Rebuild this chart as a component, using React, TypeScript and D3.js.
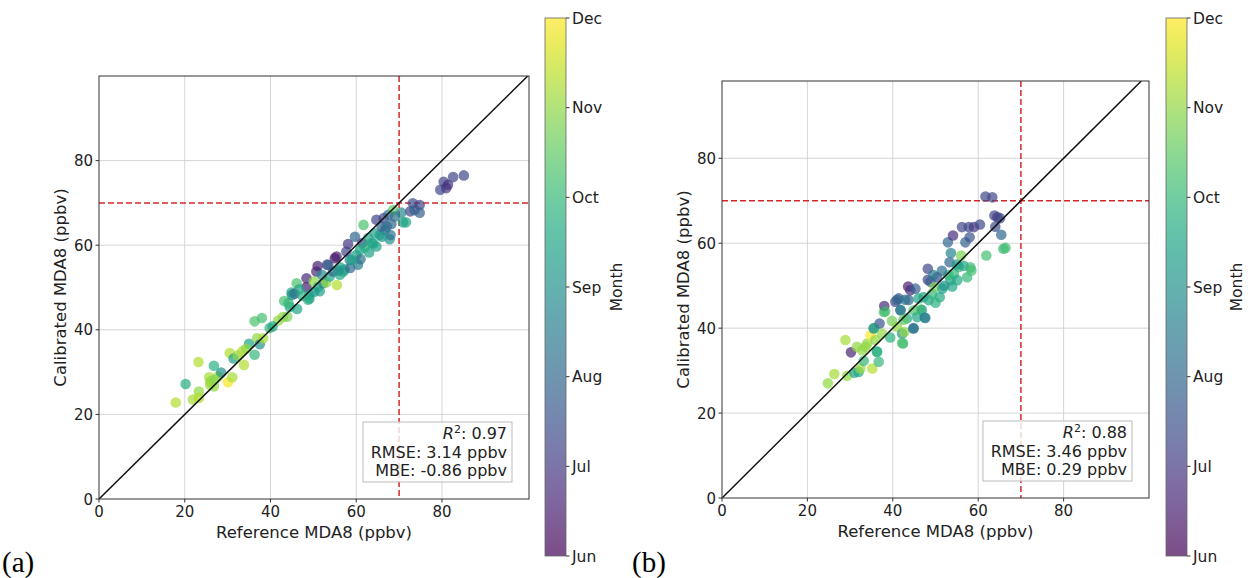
import React from "react";
import * as d3 from "d3";

// ---------- Data: panel (a) ----------
const refA = [17.9,20.2,21.9,23.2,23.3,23.3,25.7,26.0,26.8,26.8,27.8,28.5,30.1,30.5,31.1,31.4,32.4,33.4,33.8,35.0,36.3,36.3,38.0,36.9,37.5,38.3,39.8,41.8,42.9,43.2,43.9,44.5,44.9,46.1,46.2,45.6,48.4,48.4,48.8,49.1,50.1,50.7,51.0,51.1,51.5,52.3,53.0,53.2,53.8,54.6,55.0,55.4,55.5,56.2,57.0,57.3,57.7,58.1,58.5,58.6,59.7,60.0,60.4,61.0,61.4,62.8,63.0,63.6,64.3,64.7,64.7,65.5,65.9,66.4,66.7,67.1,67.5,67.8,68.0,68.2,68.6,69.0,70.5,70.9,71.6,72.6,73.2,73.6,74.8,74.8,79.6,80.4,81.0,81.4,82.6,85.1,44.2,45.0,46.7,49.1,52.0,53.5,56.2,59.0,60.9,61.7,64.0,25.9,27.0,34.3,40.5,47.5,50.2,55.8,62.0,66.0];
const calA = [22.8,27.2,23.5,32.4,25.4,23.9,28.8,27.8,31.5,26.6,29.0,29.9,27.6,34.5,28.8,33.2,33.9,34.9,31.7,36.7,34.1,42.0,42.8,38.0,36.6,38.0,40.4,42.2,43.0,46.8,43.1,45.4,48.8,51.0,44.9,48.5,50.1,52.2,47.1,48.3,51.4,53.8,55.1,50.1,49.1,51.0,51.2,55.4,52.6,53.8,56.9,57.3,50.6,54.8,53.8,54.3,58.5,60.3,56.5,54.6,62.0,57.7,55.4,56.7,60.5,61.7,58.3,60.5,62.8,59.7,66.0,62.4,64.4,66.4,63.6,64.4,67.2,61.4,62.4,65.0,68.3,66.8,67.7,65.4,65.4,68.0,69.9,68.3,69.5,67.7,73.1,75.0,73.5,74.3,76.1,76.5,46.3,48.2,49.6,47.4,53.0,55.3,53.0,56.5,58.9,64.8,60.4,27.0,28.2,35.5,40.8,48.0,49.0,54.0,59.5,62.0];
const monA = [11.3,9.7,11.2,11.3,11.0,11.3,11.2,11.0,9.8,11.0,11.1,9.0,11.9,11.3,11.2,9.3,11.0,11.3,11.3,9.5,10.0,10.3,10.2,11.0,9.0,11.2,10.0,11.0,11.0,10.2,10.8,9.5,9.4,10.3,9.5,7.0,6.5,6.7,9.7,9.5,11.0,6.7,6.5,9.6,9.4,8.7,11.0,7.3,9.5,8.0,6.4,6.5,11.3,9.4,9.3,9.5,7.2,7.0,8.6,8.0,8.0,9.3,8.5,8.2,7.0,9.6,9.4,9.6,9.5,9.4,7.2,9.3,7.8,7.2,8.0,8.2,8.0,9.0,8.3,8.0,10.5,8.1,8.8,9.5,9.5,7.3,7.3,7.8,7.2,7.8,7.3,7.2,7.0,6.8,7.2,7.3,10.0,9.0,9.5,9.6,8.8,7.8,9.6,9.4,9.5,10.3,9.5,11.1,10.9,11.0,9.6,9.8,9.2,9.0,9.7,9.2];

// ---------- Data: panel (b) ----------
const refB = [24.8,26.3,28.9,29.3,30.2,31.0,31.6,32.0,32.4,32.8,33.2,33.6,34.0,34.8,35.2,35.6,35.9,36.3,36.7,36.9,37.5,37.9,38.0,39.4,39.8,40.6,41.0,41.4,41.8,42.2,42.4,42.7,43.3,43.6,43.7,44.1,44.8,44.9,45.3,45.7,46.5,47.2,47.5,48.2,48.2,48.4,48.8,49.2,49.8,50.4,51.0,51.6,52.9,53.3,53.5,53.6,53.9,54.1,54.3,55.1,55.5,56.0,56.2,56.6,57.0,57.4,57.8,58.0,58.2,58.4,59.0,60.4,61.7,61.9,63.3,63.8,64.0,64.5,65.1,65.4,65.9,66.4,38.2,41.0,42.9,41.8,42.5,44.9,35.5,36.3,42.2,46.8,47.6,50.0,52.0,55.0,53.0,46.0,49.5,51.5];
const calB = [27.0,29.2,37.2,28.8,34.3,29.5,35.6,29.7,30.5,34.8,32.3,35.6,36.4,38.3,30.5,39.9,37.2,34.4,32.1,41.1,38.7,43.8,45.2,37.8,41.7,46.2,40.3,47.0,44.2,38.7,36.4,39.1,42.3,49.8,46.6,48.9,39.9,44.2,49.3,42.6,44.4,47.3,42.5,54.0,51.4,46.6,50.9,48.1,49.7,52.0,47.3,49.3,60.2,55.5,51.3,57.7,49.8,61.8,52.8,51.3,54.4,57.1,63.8,54.7,60.2,52.0,63.8,61.4,54.3,53.6,63.8,64.4,71.0,57.1,70.8,66.5,63.9,66.1,65.9,62.0,58.7,58.9,43.9,46.7,46.7,44.3,42.0,40.0,40.0,34.5,36.5,44.3,42.4,46.0,50.0,55.0,52.5,47.0,52.5,53.5];
const monB = [11.0,11.2,11.2,11.0,6.6,9.5,11.0,9.6,11.1,11.0,10.0,11.0,11.0,12.0,11.3,10.3,11.0,9.8,10.0,7.5,11.0,10.3,6.7,9.8,10.7,7.2,11.0,7.5,8.0,9.0,10.0,11.0,9.6,6.5,8.0,6.8,8.2,10.3,7.8,9.5,10.8,9.5,8.8,7.3,7.3,9.5,7.7,10.0,10.8,7.5,9.6,9.5,8.0,8.0,9.5,8.7,9.5,6.8,10.0,9.6,10.0,10.8,7.3,9.5,7.8,10.0,7.3,7.5,10.0,10.2,7.0,7.3,7.3,10.2,7.3,7.3,7.4,7.0,7.3,8.0,10.0,10.2,10.2,8.0,8.2,8.6,10.5,8.3,9.0,9.8,10.3,9.4,8.5,9.8,9.0,9.3,10.0,9.5,8.4,8.2];

const monthLabels = ["Jun", "Jul", "Aug", "Sep", "Oct", "Nov", "Dec"];
const monthValues = [6, 7, 8, 9, 10, 11, 12];
const axisTicks = [0, 20, 40, 60, 80];
const threshold = 70;

const statsA = ["0.97", "RMSE: 3.14 ppbv", "MBE: -0.86 ppbv"];
const statsB = ["0.88", "RMSE: 3.46 ppbv", "MBE: 0.29 ppbv"];

const FONT = "DejaVu Sans";
const color = (m: number) => d3.interpolateViridis((m - 6) / 6);

type PanelProps = {
  id: string;
  left: number; top: number; right: number; bottom: number;
  xMax: number; yMax: number;
  xs: number[]; ys: number[]; ms: number[];
  stats: string[];
  box: [number, number, number, number];
  cbX: number; cbW: number; cbTop: number; cbBottom: number;
  monthX: number;
  letter: string; letterX: number;
};

function Panel(p: PanelProps) {
  const x = d3.scaleLinear().domain([0, p.xMax]).range([p.left, p.right]);
  const y = d3.scaleLinear().domain([0, p.yMax]).range([p.bottom, p.top]);
  const cb = d3.scaleLinear().domain([6, 12]).range([p.cbBottom, p.cbTop]);
  const clipId = "clip" + p.id;
  const gradId = "grad" + p.id;
  const stops = d3.range(0, 1.0001, 0.05);
  const diagEnd = Math.min(p.xMax, p.yMax);
  const [bx, by, bw, bh] = p.box;
  return (
    <g>
      <defs>
        <clipPath id={clipId}>
          <rect x={p.left} y={p.top} width={p.right - p.left} height={p.bottom - p.top} />
        </clipPath>
        <linearGradient id={gradId} x1="0" y1="1" x2="0" y2="0">
          {stops.map((t, i) => (
            <stop key={i} offset={t} stopColor={d3.interpolateViridis(t)} stopOpacity={0.7} />
          ))}
        </linearGradient>
      </defs>
      {axisTicks.filter(t => t > 0).map(t => (
        <g key={"g" + t}>
          <line x1={x(t)} x2={x(t)} y1={p.top} y2={p.bottom} stroke="#d0d0d0" strokeWidth={0.9} />
          <line x1={p.left} x2={p.right} y1={y(t)} y2={y(t)} stroke="#d0d0d0" strokeWidth={0.9} />
        </g>
      ))}
      <g clipPath={`url(#${clipId})`}>
        <line x1={x(threshold)} x2={x(threshold)} y1={p.top} y2={p.bottom} stroke="#d62728" strokeWidth={1.5} strokeDasharray="6,3" />
        <line x1={p.left} x2={p.right} y1={y(threshold)} y2={y(threshold)} stroke="#d62728" strokeWidth={1.5} strokeDasharray="6,3" />
        {p.xs.map((v, i) => (
          <circle key={i} cx={x(v)} cy={y(p.ys[i])} r={5.3} fill={color(p.ms[i])} fillOpacity={0.7} />
        ))}
        <line x1={x(0)} y1={y(0)} x2={x(diagEnd)} y2={y(diagEnd)} stroke="#111" strokeWidth={1.5} />
      </g>
      <rect x={p.left} y={p.top} width={p.right - p.left} height={p.bottom - p.top} fill="none" stroke="#333" strokeWidth={1} />
      {axisTicks.map(t => (
        <g key={"t" + t} fontFamily={FONT} fontSize={15} fill="#222">
          <line x1={x(t)} x2={x(t)} y1={p.bottom} y2={p.bottom + 3.5} stroke="#333" />
          <text x={x(t)} y={p.bottom + 18} textAnchor="middle">{t}</text>
          <line x1={p.left - 3.5} x2={p.left} y1={y(t)} y2={y(t)} stroke="#333" />
          <text x={p.left - 6} y={y(t) + 5.5} textAnchor="end">{t}</text>
        </g>
      ))}
      <text x={(p.left + p.right) / 2} y={p.bottom + 39} textAnchor="middle" fontFamily={FONT} fontSize={16.5} fill="#222">Reference MDA8 (ppbv)</text>
      <text transform={`translate(${p.left - 33},${(p.top + p.bottom) / 2}) rotate(-90)`} textAnchor="middle" fontFamily={FONT} fontSize={16.5} fill="#222">Calibrated MDA8 (ppbv)</text>
      <rect x={bx} y={by} width={bw} height={bh} fill="white" fillOpacity={0.8} stroke="#bbb" strokeWidth={1} />
      <g fontFamily={FONT} fontSize={16} fill="#222" textAnchor="end">
        <text x={bx + bw - 5} y={by + 17}>
          <tspan fontStyle="italic">R</tspan>
          <tspan fontSize={11} dy={-6}>2</tspan>
          <tspan dy={6}>: {p.stats[0]}</tspan>
        </text>
        <text x={bx + bw - 5} y={by + 36}>{p.stats[1]}</text>
        <text x={bx + bw - 5} y={by + 54}>{p.stats[2]}</text>
      </g>
      <rect x={p.cbX} y={p.cbTop} width={p.cbW} height={p.cbBottom - p.cbTop} fill={`url(#${gradId})`} stroke="#666" strokeWidth={0.8} />
      {monthValues.map((m, i) => (
        <g key={"c" + m}>
          <line x1={p.cbX + p.cbW} x2={p.cbX + p.cbW + 3.5} y1={cb(m)} y2={cb(m)} stroke="#333" />
          <text x={p.cbX + p.cbW + 6} y={cb(m) + 5.5} fontFamily={FONT} fontSize={15.5} fill="#222">{monthLabels[i]}</text>
        </g>
      ))}
      <text transform={`translate(${p.monthX},${(p.cbTop + p.cbBottom) / 2}) rotate(-90)`} textAnchor="middle" fontFamily={FONT} fontSize={15.5} fill="#222">Month</text>
      <text x={p.letterX} y={572} fontFamily="Liberation Serif" fontSize={29} fill="#000">{p.letter}</text>
    </g>
  );
}

export default function App() {
  return (
    <svg width={1248} height={578} style={{ position: "absolute", left: 0, top: 0, background: "white" }}>
      <rect width={1248} height={578} fill="white" />
      <Panel id="a" left={99} top={76} right={529} bottom={499} xMax={100.3} yMax={100}
        xs={refA} ys={calA} ms={monA} stats={statsA} box={[363, 422, 149, 60]}
        cbX={545} cbW={21} cbTop={18} cbBottom={556} monthX={622} letter="(a)" letterX={2} />
      <Panel id="b" left={722} top={81} right={1149} bottom={498} xMax={100} yMax={98.2}
        xs={refB} ys={calB} ms={monB} stats={statsB} box={[983, 421, 149, 60]}
        cbX={1166} cbW={21} cbTop={18} cbBottom={556} monthX={1242} letter="(b)" letterX={632} />
    </svg>
  );
}
